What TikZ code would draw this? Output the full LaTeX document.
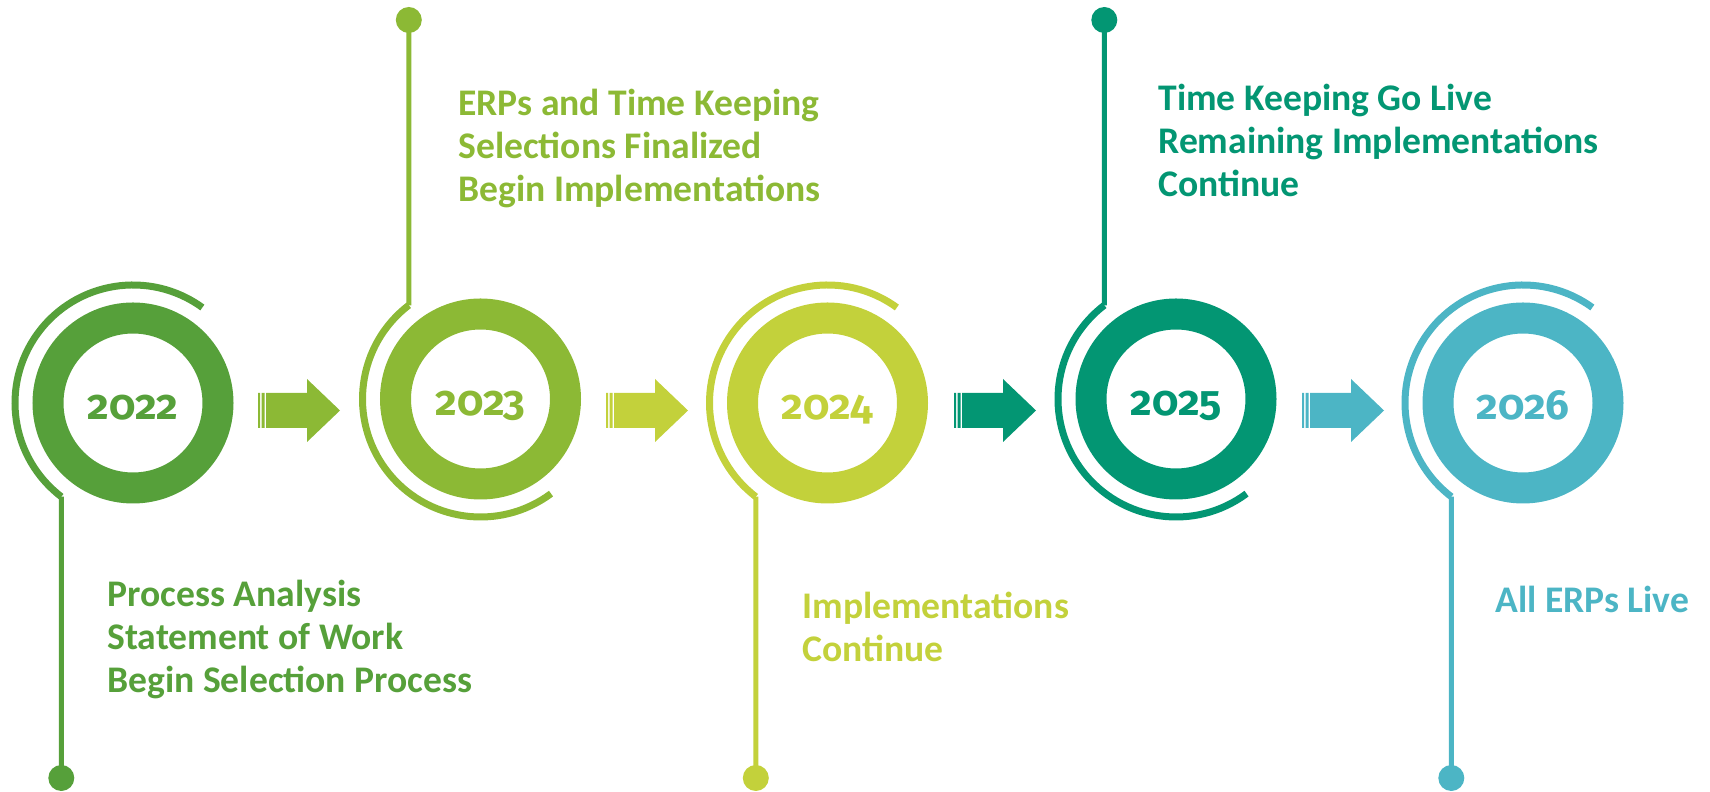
\documentclass[tikz,border=0pt]{standalone}
\usepackage{fontspec}
\setmainfont{Carlito}
\newfontfamily\yearfont{Fira Sans}[Numbers=OldStyle]
\definecolor{yr22}{HTML}{56A03A}
\definecolor{yr23}{HTML}{8CB935}
\definecolor{yr24}{HTML}{C3D13B}
\definecolor{yr25}{HTML}{039673}
\definecolor{yr26}{HTML}{4CB5C5}
\tikzset{
  ring/.style={circle, draw=#1, line width=15.5pt, minimum size=85pt, inner sep=0pt},
  halo/.style={draw=#1, line width=3.5pt},
  stem/.style={draw=#1, line width=2.5pt},
  tipdot/.style={circle, fill=#1, minimum size=13pt, inner sep=0pt},
  year/.style={text=#1, font=\yearfont\bfseries\fontsize{21}{21}\selectfont, text height=11pt, text depth=0pt, inner sep=0pt},
  note/.style={text=#1, font=\bfseries\fontsize{18.8}{21.5}\selectfont, align=left, anchor=base west, inner sep=0pt}
}

\begin{document}
\begin{tikzpicture}[x=0.5pt, y=0.5pt]
\useasboundingbox (0,0) rectangle (1710,792);
\node[ring=yr22] (r1) at (133,389) {};
\node[ring=yr23] (r2) at (480.5,393) {};
\node[ring=yr24] (r3) at (827.5,389) {};
\node[ring=yr25] (r4) at (1176,393) {};
\node[ring=yr26] (r5) at (1523,389) {};
\node[year=yr22] (t1) at ([yshift=-3pt]r1.center) {2022};
\node[year=yr23] (t2) at ([yshift=-3pt]r2.center) {2023};
\node[year=yr24] (t3) at ([yshift=-3pt]r3.center) {2024};
\node[year=yr25] (t4) at ([yshift=-3pt]r4.center) {2025};
\node[year=yr26] (t5) at ([yshift=-3pt]r5.center) {2026};
\path[halo=yr22] ([shift={(54:59pt)}]r1.center) arc[start angle=54, end angle=232.6, radius=59pt] coordinate (j1);
\path[halo=yr23] ([shift={(127.4:59pt)}]r2.center) coordinate (j2) arc[start angle=127.4, end angle=306.7, radius=59pt];
\path[halo=yr24] ([shift={(54:59pt)}]r3.center) arc[start angle=54, end angle=232.6, radius=59pt] coordinate (j3);
\path[halo=yr25] ([shift={(127.4:59pt)}]r4.center) coordinate (j4) arc[start angle=127.4, end angle=306.7, radius=59pt];
\path[halo=yr26] ([shift={(54:59pt)}]r5.center) arc[start angle=54, end angle=232.6, radius=59pt] coordinate (j5);
\node[tipdot=yr22] (d1) at (61.3,14) {};
\node[tipdot=yr23] (d2) at (408.8,772) {};
\node[tipdot=yr24] (d3) at (755.8,14) {};
\node[tipdot=yr25] (d4) at (1104.3,772) {};
\node[tipdot=yr26] (d5) at (1451.3,14) {};
\path[stem=yr22] (j1) -- (d1.center);
\path[stem=yr23] (j2) -- (d2.center);
\path[stem=yr24] (j3) -- (d3.center);
\path[stem=yr25] (j4) -- (d4.center);
\path[stem=yr26] (j5) -- (d5.center);
\fill[yr23] (258,364) rectangle (260,399) (261.5,364) rectangle (264.5,399)
  (266,364) -- (307,364) -- (307,350) -- (340,381.5) -- (307,413) -- (307,399) -- (266,399) -- cycle;
\fill[yr24] (606,364) rectangle (608,399) (609.5,364) rectangle (612.5,399)
  (614,364) -- (655,364) -- (655,350) -- (688,381.5) -- (655,413) -- (655,399) -- (614,399) -- cycle;
\fill[yr25] (954,364) rectangle (956,399) (957.5,364) rectangle (960.5,399)
  (962,364) -- (1003,364) -- (1003,350) -- (1036,381.5) -- (1003,413) -- (1003,399) -- (962,399) -- cycle;
\fill[yr26] (1302,364) rectangle (1304,399) (1305.5,364) rectangle (1308.5,399)
  (1310,364) -- (1351,364) -- (1351,350) -- (1384,381.5) -- (1351,413) -- (1351,399) -- (1310,399) -- cycle;
\node[note=yr22] (n1) at (107,99) {Process Analysis\\Statement of Work\\Begin Selection Process};
\node[note=yr23] (n2) at (458,590) {ERPs and Time Keeping\\Selections Finalized\\Begin Implementations};
\node[note=yr24] (n3) at (802,130) {Implementations\\Continue};
\node[note=yr25] (n4) at (1158,595) {Time Keeping Go Live\\Remaining Implementations\\Continue};
\node[note=yr26] (n5) at (1495,179) {All ERPs Live};
\end{tikzpicture}
\end{document}
